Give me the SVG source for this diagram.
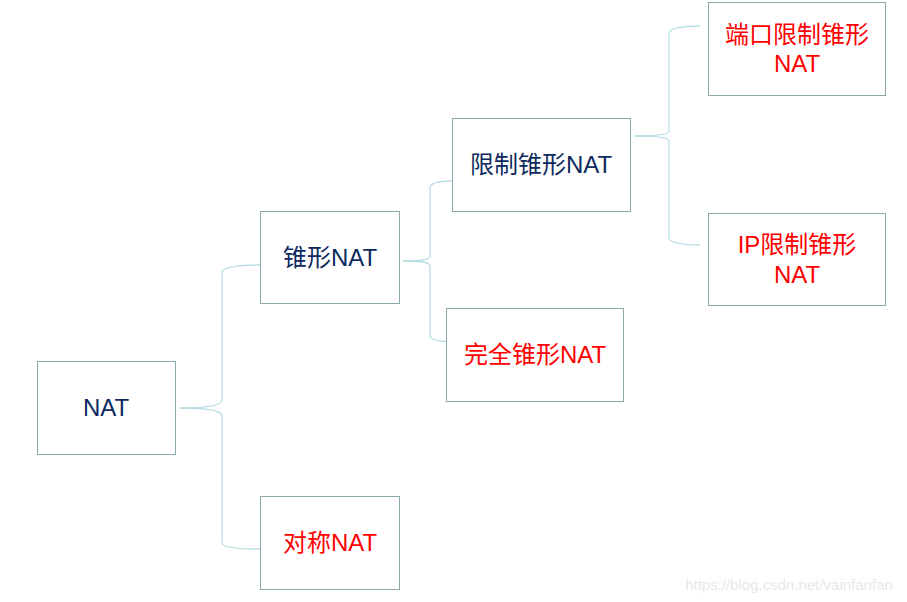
<svg xmlns="http://www.w3.org/2000/svg" width="907" height="602" viewBox="0 0 907 602">
<style>
.box{fill:#ffffff;stroke:#8aa8aa;stroke-width:1}
.c{fill:none;stroke:#b8dfe3;stroke-width:1.3}
text{font-family:"Liberation Sans","Noto Sans CJK SC",sans-serif;font-size:24px;text-anchor:middle}
.d{fill:#0d2a5e}
.r{fill:#ff0000}
</style>
<rect width="907" height="602" fill="#ffffff"/>
<g id="connectors">
<path class="c" d="M180,408 C205,408 222,406 222,400 L222,273 C222,267 240,265 260,265"/>
<path class="c" d="M180,408 C205,408 222,410 222,416 L222,543 C222,548 240,549 260,549"/>
<path class="c" d="M403,261 C420,261 430,260 430,256 L430,188 C430,183 440,181 452,181"/>
<path class="c" d="M403,261 C420,261 430,262 430,266 L430,336 C430,340 440,342 458,342"/>
<path class="c" d="M635,136 C655,136 669,135 669,131 L669,33 C669,28 685,26 700,26"/>
<path class="c" d="M635,136 C655,136 669,137 669,141 L669,238 C669,243 685,245 700,245"/>
</g>
<g id="n-nat"><rect class="box" x="37.5" y="361.5" width="138" height="93"/><text class="d" x="106" y="416">NAT</text></g>
<g id="n-cone"><rect class="box" x="260.5" y="211.5" width="139" height="92"/><text class="d" x="330" y="266">锥形NAT</text></g>
<g id="n-sym"><rect class="box" x="260.5" y="496.5" width="139" height="93"/><text class="r" x="330" y="551">对称NAT</text></g>
<g id="n-rcone"><rect class="box" x="452.5" y="118.5" width="178" height="93"/><text class="d" x="541" y="173">限制锥形NAT</text></g>
<g id="n-fcone"><rect class="box" x="446.5" y="308.5" width="177" height="93"/><text class="r" x="535" y="363">完全锥形NAT</text></g>
<g id="n-prcone"><rect class="box" x="708.5" y="2.5" width="177" height="93"/><text class="r" x="797" y="43">端口限制锥形</text><text class="r" x="797" y="72">NAT</text></g>
<g id="n-iprcone"><rect class="box" x="708.5" y="213.5" width="177" height="92"/><text class="r" x="797" y="253">IP限制锥形</text><text class="r" x="797" y="283">NAT</text></g>
<text x="789" y="590" style="font-size:15px;fill:#e8e8e8">https://blog.csdn.net/vainfanfan</text>
</svg>
